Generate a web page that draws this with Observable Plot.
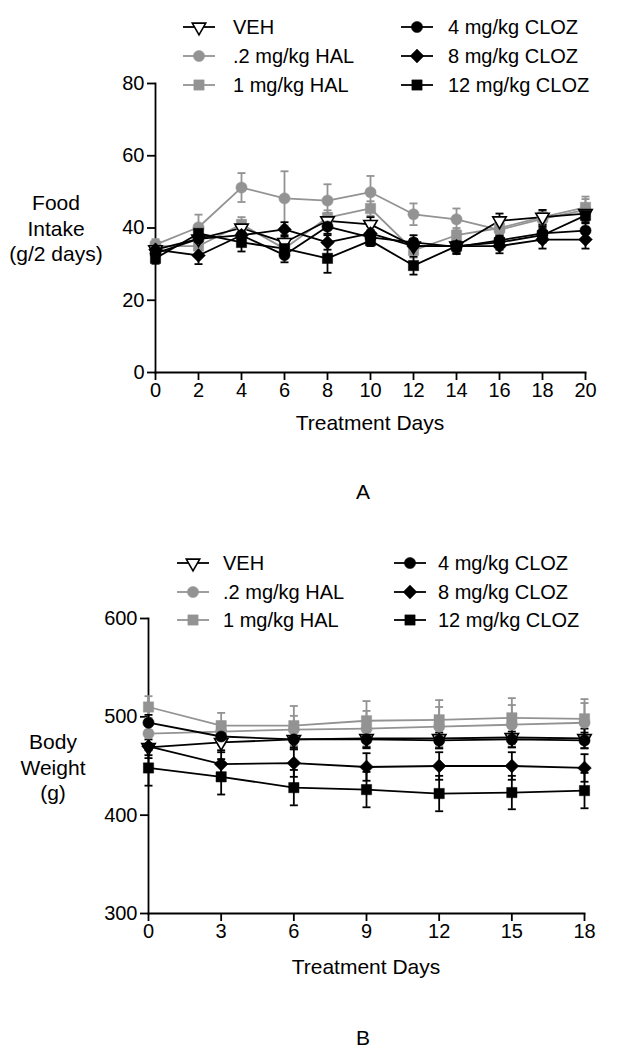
<!DOCTYPE html>
<html><head><meta charset="utf-8">
<script src="https://cdn.jsdelivr.net/npm/d3@7"></script>
<script src="https://cdn.jsdelivr.net/npm/@observablehq/plot@0.6"></script>
<style>
body{margin:0;background:#fff;font-family:"Liberation Sans",Arial,sans-serif;color:#000;}
#root{position:relative;width:619px;height:1050px;overflow:hidden;}
.t{position:absolute;text-align:center;font-size:21px;line-height:25.5px;white-space:nowrap;}
</style></head><body><div id="root"></div>
<script>
// ---------- Panel A: Food intake ----------
const daysA = [0,2,4,6,8,10,12,14,16,18,20];
const yTicksA = [0,20,40,60,80];
const vehA     = [34,37,40,36,42,41,35,35,42,43,44];
const vehAe    = [2,2,2,2,2,2,2,2,2,2,2];
const hal02A   = [35.4,40.2,51.2,48.2,47.6,49.9,43.8,42.4,39.5,42.5,45];
const hal02Ae  = [1.5,3.5,4,7.5,4.5,4.5,3,3,2,2,3];
const hal1A    = [35,35,41,34.3,42.9,45.4,33.8,38,40,43,45.7];
const hal1Ae   = [1.5,2,2,2,2,2,2,2,2,2,3];
const cloz4A   = [33,37,38,32.5,40.4,37.4,36,34.8,36.6,38.5,39.3];
const cloz4Ae  = [2,2,2,2,2,2,2,2,2,2,2];
const cloz8A   = [34,32.4,38,39.6,36,38.5,35,35,35,36.8,36.8];
const cloz8Ae  = [2,2.4,2,2,2,2,2,1.5,2,2.5,2.5];
const cloz12A  = [31.6,38.5,36,34.3,31.6,36.5,29.6,35,36,38,43.5];
const cloz12Ae = [1.5,2,2.5,2,4,1.5,2.5,1.5,2,2,2];

// ---------- Panel B: Body weight ----------
const daysB = [0,3,6,9,12,15,18];
const yTicksB = [300,400,500,600];
const vehB     = [469,474,477,478,478,479,478];
const vehBe    = [8,10,10,10,10,10,10];
const hal02B   = [483,485,487,488,490,492,494];
const hal02Be  = [10,10,14,18,20,20,20];
const hal1B    = [510,491,491,496,497,499,498];
const hal1Be   = [11,13,20,20,20,20,20];
const cloz4B   = [494,480,477,477,476,477,476];
const cloz4Be  = [8,8,8,8,8,8,8];
const cloz8B   = [470,452,453,449,450,450,448];
const cloz8Be  = [12,14,14,14,14,14,14];
const cloz12B  = [448,439,428,426,422,423,425];
const cloz12Be = [18,18,18,18,18,17,18];

const seriesNames = ["VEH", ".2 mg/kg HAL", "1 mg/kg HAL", "4 mg/kg CLOZ", "8 mg/kg CLOZ", "12 mg/kg CLOZ"];

// styles (kept apart from the data)
const GRAY = "#939393";
const styles = {
  "VEH":           {color:"#000", fill:"#fff", symbol:"triangle", r:5, rotate:180},
  ".2 mg/kg HAL":  {color:GRAY, fill:GRAY, symbol:"circle", r:5.6, rotate:0},
  "1 mg/kg HAL":   {color:GRAY, fill:GRAY, symbol:"square", r:5.8, rotate:0},
  "4 mg/kg CLOZ":  {color:"#000", fill:"#000", symbol:"circle", r:5.6, rotate:0},
  "8 mg/kg CLOZ":  {color:"#000", fill:"#000", symbol:"diamond2", r:6.2, rotate:0},
  "12 mg/kg CLOZ": {color:"#000", fill:"#000", symbol:"square", r:5.8, rotate:0}
};

function tidy(days, vals, errs) {
  return seriesNames.map((name, i) => days.map((d, j) => ({name, day:d, v:vals[i][j], e:errs[i][j]})));
}
const dataA = tidy(daysA, [vehA,hal02A,hal1A,cloz4A,cloz8A,cloz12A], [vehAe,hal02Ae,hal1Ae,cloz4Ae,cloz8Ae,cloz12Ae]);
const dataB = tidy(daysB, [vehB,hal02B,hal1B,cloz4B,cloz8B,cloz12B], [vehBe,hal02Be,hal1Be,cloz4Be,cloz8Be,cloz12Be]);

const capSymbol = {draw(ctx, size){ const w = Math.sqrt(size/Math.PI); ctx.moveTo(-w,0); ctx.lineTo(w,0); }};

function seriesMarks(data) {
  const marks = [];
  const order = [2,1,0,3,4,5];
  for (const i of order) {
    const d = data[i]; const s = styles[seriesNames[i]];
    marks.push(Plot.line(d, {x:"day", y:"v", stroke:s.color, strokeWidth:1.8}));
    marks.push(Plot.ruleX(d, {x:"day", y1:q=>q.v-q.e, y2:q=>q.v+q.e, stroke:s.color, strokeWidth:1.8}));
    marks.push(Plot.dot(d, {x:"day", y:q=>q.v+q.e, symbol:capSymbol, r:4, fill:"none", stroke:s.color, strokeWidth:1.8}));
    marks.push(Plot.dot(d, {x:"day", y:q=>q.v-q.e, symbol:capSymbol, r:4, fill:"none", stroke:s.color, strokeWidth:1.8}));
  }
  for (const i of order) {
    const d = data[i]; const s = styles[seriesNames[i]];
    marks.push(Plot.dot(d, {x:"day", y:"v", symbol:s.symbol, r:s.r, rotate:s.rotate, fill:s.fill,
      stroke:s.color, strokeWidth: s.fill === "#fff" ? 1.6 : 0.5}));
  }
  return marks;
}

function makePlot(data, days, yTicks, yDomain, m) {
  return Plot.plot({
    width:619, height:m.height,
    marginTop:m.top, marginBottom:m.bottom, marginLeft:m.left, marginRight:m.right,
    style:{fontSize:"20px", fontFamily:"'Liberation Sans', Arial, sans-serif", color:"#000", background:"transparent", overflow:"visible"},
    x:{domain:[days[0], days[days.length-1]]},
    y:{domain:yDomain},
    marks:[
      Plot.axisY({ticks:yTicks, tickSize:8, tickPadding:3, label:null, strokeWidth:1.8}),
      Plot.axisX({ticks:days, tickSize:8, tickPadding:2, label:null, strokeWidth:1.8}),
      Plot.frame({anchor:"left", strokeWidth:1.8}),
      Plot.frame({anchor:"bottom", strokeWidth:1.8}),
      ...seriesMarks(data)
    ]
  });
}

const root = document.getElementById("root");

function place(el, top) { el.style.position = "absolute"; el.style.left = "0px"; el.style.top = top + "px"; root.appendChild(el); }
function text(str, cx, cy, w) {
  const lines = str.split("\n");
  const div = document.createElement("div");
  div.className = "t";
  div.style.width = w + "px";
  div.style.left = (cx - w/2) + "px";
  div.style.top = (cy - 12.75) + "px";
  div.innerHTML = lines.map(l => `<div>${l}</div>`).join("");
  root.appendChild(div);
}

function legend(rows, colA, colB) {
  const svg = d3.create("svg").attr("width", 619).attr("height", 1050)
    .style("position","absolute").style("left","0px").style("top", "0px").style("overflow","visible");
  seriesNames.forEach((name, i) => {
    const s = styles[name];
    const col = i < 3 ? colA : colB;
    const y = rows[i % 3];
    const g = svg.append("g");
    g.append("line").attr("x1", col.m - 16).attr("x2", col.m + 16).attr("y1", y).attr("y2", y)
      .attr("stroke", s.color).attr("stroke-width", 1.8);
    const symType = {circle:d3.symbolCircle, square:d3.symbolSquare, triangle:d3.symbolTriangle, diamond2:d3.symbolDiamond2}[s.symbol];
    g.append("path").attr("d", d3.symbol(symType, Math.PI * s.r * s.r)())
      .attr("transform", `translate(${col.m},${y}) rotate(${s.rotate})`)
      .attr("fill", s.fill).attr("stroke", s.color).attr("stroke-width", s.fill === "#fff" ? 1.6 : 0.5);
    g.append("text").attr("x", col.t).attr("y", y).attr("dy", "0.35em")
      .attr("font-size", 20).attr("font-family", "'Liberation Sans', Arial, sans-serif").text(name);
  });
  root.appendChild(svg.node());
}

// Panel A
const plotA = makePlot(dataA, daysA, yTicksA, [0,80], {height:440, top:83, bottom:68, left:155, right:34});
place(plotA, 0);
legend([27,56,85], {m:199, t:233}, {m:417, t:448});
text("Food\nIntake\n(g/2 days)", 56, 203, 130);
text("Treatment Days", 370, 423, 300);
text("A", 363, 492, 40);

// Panel B
const plotB = makePlot(dataB, daysB, yTicksB, [300,600], {height:460, top:88, bottom:77, left:148, right:35});
place(plotB, 530);
legend([563,592,620], {m:193, t:223}, {m:410, t:438});
text("Body\nWeight\n(g)", 53, 742, 130);
text("Treatment Days", 366, 967, 300);
text("B", 363, 1038, 40);
</script>
</body></html>
